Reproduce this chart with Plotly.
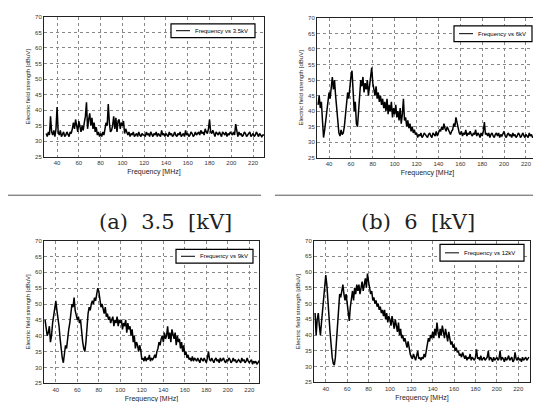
import plotly.graph_objects as go

# ---- data (1 MHz steps starting at 30 MHz) ----
start_mhz = 30
x_ticks = [40, 60, 80, 100, 120, 140, 160, 180, 200, 220]
y_ticks = [25, 30, 35, 40, 45, 50, 55, 60, 65, 70]

level_3_5kv = [
    32.5, 31.5, 33, 32, 38, 33, 32, 33.5, 31.5, 34,
    41, 33, 32, 33.5, 31.5, 32.5, 33, 31.5, 32, 33,
    32, 31.5, 33, 32.5, 34, 36, 34, 37, 35, 33,
    36.5, 34, 33, 35, 33.5, 36, 38, 42.5, 34, 37,
    39, 35, 37.5, 34, 36, 33, 34.5, 32, 33, 31.5,
    32.5, 31.5, 33, 32, 34, 36, 35, 42, 36, 33,
    33.5, 35, 38, 34, 37.5, 33, 36.5, 37, 34, 36,
    35, 36.5, 32.5, 34, 33, 32, 33, 31.5, 32.5, 32,
    33, 31.5, 32, 32.5, 31.5, 33, 32, 31.5, 32.5, 32,
    32, 31.5, 33, 32, 32.5, 31.5, 33, 32, 31.5, 32.5,
    32, 33, 31.5, 32.5, 32, 31.5, 33.5, 32, 32.5, 31.5,
    32.5, 32, 31.5, 33, 32, 32.5, 31.5, 32, 33, 32,
    31.5, 32.5, 32, 33, 31.5, 32, 32.5, 31.5, 33.5, 32,
    32.5, 31.5, 32, 33, 32.5, 31.5, 32, 33, 32, 32.5,
    33, 32, 33.5, 32.5, 33, 32, 34, 33, 32.5, 34,
    37, 33, 32.5, 33.5, 32, 31.5, 33, 32.5, 32, 33,
    32, 31.5, 33, 32.5, 32, 33, 31.5, 32.5, 32, 33,
    32.5, 32, 33, 32, 35.5, 32.5, 31.5, 33, 32, 32.5,
    31.5, 32, 33, 32.5, 31.5, 32, 32.5, 33, 31.5, 32,
    32.5, 31.5, 32, 33, 32, 31.5, 32.5, 32, 31.5, 32,
    32,
]

level_6kv = [
    42, 45, 41, 43, 37, 31.5, 34, 38, 40, 43,
    46, 44, 49, 51, 47, 50, 45, 41, 36, 33,
    32, 34, 32.5, 33, 35, 38, 42, 46, 44, 48,
    51, 53, 47, 40, 43, 36, 35, 41, 46, 50,
    48, 51, 46, 49, 47, 50, 45, 48, 51, 54,
    49, 47, 45, 48, 44, 46, 43, 45, 42, 44,
    41, 43, 40, 44, 39, 42, 40, 43, 38, 41,
    39, 42, 38, 40, 37, 41, 36, 39, 44, 37,
    38, 35, 37, 34.5, 36, 33.5, 35, 33, 34, 32.5,
    33, 31.5, 32.5, 32, 33, 31.5, 32, 33, 32.5, 32,
    31.5, 32.5, 33, 32, 31.5, 33, 32.5, 32, 33.5, 32,
    33, 34, 33.5, 35, 34, 36, 34.5, 33.5, 35, 34,
    33, 32.5, 33.5, 34, 36, 35, 38, 36, 34.5, 33,
    32.5, 33.5, 32, 33, 32.5, 34, 32, 33, 32.5, 33.5,
    32.5, 32, 33, 32.5, 34, 32, 33, 32.5, 31.5, 33,
    32, 33.5, 36.5, 32.5, 33, 32, 33, 31.5, 32.5, 33,
    32, 31.5, 32.5, 33, 32, 33, 31.5, 32.5, 32, 33,
    33.5, 32, 31.5, 32.5, 33, 32, 32.5, 31.5, 33, 32,
    32.5, 31.5, 32, 33, 32.5, 31.5, 32, 33, 32, 31.5,
    32.5, 32, 31.5, 33, 32, 32.5, 31.5, 32, 33, 32,
    32,
]

level_9kv = [
    45, 42, 40, 41, 43, 38, 40, 44, 47, 49,
    51, 48, 46, 43, 39, 35, 33, 31.5, 34, 37,
    36, 40, 42, 44, 47, 50, 49, 52, 48, 46,
    45, 46, 44, 45, 41, 38, 36, 35, 38, 43,
    47, 49, 48, 50, 51, 50, 52, 51, 53, 55,
    54, 51, 49, 50, 48, 47, 49, 46, 47, 45,
    46, 44, 45, 46, 43, 45, 44, 46, 43, 45,
    44, 45, 42, 44, 43, 45, 41, 44, 42, 43,
    40, 42, 38, 40, 36, 38, 37, 35, 37, 35.5,
    32.5, 33, 32, 33.5, 32, 33, 32.5, 34, 32, 33,
    32.5, 33, 34, 33, 35, 36, 38, 37, 39, 40,
    38, 41, 39, 40, 43, 39, 41, 38, 42, 40,
    39, 41, 37, 40, 38, 39, 36, 38, 35, 37,
    34, 35, 33, 34, 32.5, 33, 32, 33.5, 32, 33,
    32.5, 32, 33, 32, 31.5, 33, 32.5, 32, 33, 32,
    31.5, 33, 35, 32.5, 32, 33, 32, 31.5, 32.5, 33,
    32, 32.5, 31.5, 33, 32, 32.5, 33, 32, 31.5, 32.5,
    32, 33, 32.5, 31.5, 32, 33, 32, 32.5, 31.5, 32,
    32.5, 32, 31.5, 33, 32, 32.5, 31.5, 32, 33, 32,
    31.5, 32, 32.5, 31, 32, 31.5, 32, 31, 31.5, 32,
    31.5,
]

level_12kv = [
    47, 40, 45, 47, 43, 40, 44, 48, 53, 57,
    59, 56, 52, 46, 41, 36, 33, 31, 30.5, 33,
    38, 44, 50, 53, 52, 54, 56, 53, 51, 53,
    50, 48, 44.5, 49, 52, 54, 51, 55, 53, 56,
    54, 56, 53, 55, 57, 54, 56, 58, 55, 59.5,
    57, 55, 53, 54, 51, 52, 50, 51, 49, 50,
    48, 49, 47, 48, 46, 48, 45, 47, 44, 46,
    45, 43, 46, 44, 42, 45, 43, 41, 44, 40,
    42, 39, 40, 38, 39, 37, 36, 38, 35, 34,
    33, 32.5, 34, 33, 32, 33.5, 35, 32.5, 33, 32,
    33, 32.5, 34, 33, 35, 37, 39, 38, 40, 39,
    41, 39, 42, 40, 44, 41, 39, 42, 40, 43,
    41, 39, 42, 40, 38, 41, 39, 37, 38, 36,
    37, 35, 36, 34.5, 35, 33.5, 34, 33, 34.5, 33,
    32.5, 33.5, 32, 33, 32.5, 34, 32, 33, 32.5, 32,
    33, 35.5, 32.5, 33, 32, 33.5, 32, 32.5, 33, 32,
    32.5, 33, 35, 32, 33, 32.5, 31.5, 33, 32, 32.5,
    33, 32, 32.5, 35, 32, 33, 32.5, 31.5, 33, 32,
    32.5, 33.5, 32, 32.5, 33, 31.5, 32, 34.5, 32.5, 32,
    33, 32, 32.5, 31.5, 33, 32, 32.5, 33, 32, 32.5,
    33,
]

series_names = ["Frequency vs 3.5kV", "Frequency vs 6kV",
                "Frequency vs 9kV", "Frequency vs 12kV"]
captions = ["(a)\u00a0\u00a03.5\u00a0\u00a0[kV]", "(b)\u00a0\u00a06\u00a0\u00a0[kV]"]
x_title = "Frequency [MHz]"
y_title = "Electric field strength [dBuV]"

series = [level_3_5kv, level_6kv, level_9kv, level_12kv]

# ---- layout geometry (pixels of a 541x402 canvas) ----
W, H = 541, 402
boxes = [  # left, right, top, bottom
    (36, 256, 6, 148),
    (309, 530, 7, 149),
    (36, 251, 233, 378),
    (306, 522, 233, 377),
]
xranges = [[28, 230], [29, 231], [29, 229], [29, 231]]
legend_boxes = [  # left, right, top, bottom
    (163, 247, 13, 27),
    (446, 524, 15, 31),
    (168, 245, 242, 256),
    (432, 516, 237, 254),
]


def px(xp):
    return xp / W


def py(yp):
    return 1 - yp / H


fig = go.Figure()
tick_font = dict(family="Liberation Sans", size=6, color="#333333")

for i, vals in enumerate(series):
    n = i + 1
    sx = "" if n == 1 else str(n)
    freqs = [start_mhz + k for k in range(len(vals))]
    fig.add_trace(go.Scatter(
        x=freqs, y=vals, mode="lines",
        line=dict(color="black", width=1.5),
        name=series_names[i],
        xaxis="x" + sx, yaxis="y" + sx, showlegend=False,
    ))
    l, r, t, b = boxes[i]
    axis_common = dict(
        showline=True, mirror=True, linecolor="#222222", linewidth=1,
        showgrid=True, gridcolor="#888888", griddash="dot", gridwidth=1,
        zeroline=False, ticks="", tickfont=tick_font,
    )
    fig.update_layout(**{
        "xaxis" + sx: dict(
            domain=[px(l), px(r)], anchor="y" + sx, range=xranges[i],
            tickvals=x_ticks,
            title=dict(text=x_title, standoff=4,
                       font=dict(family="Liberation Sans", size=7, color="#222222")),
            **axis_common),
        "yaxis" + sx: dict(
            domain=[py(b), py(t)], anchor="x" + sx, range=[25, 70],
            tickvals=y_ticks,
            title=dict(text=y_title, standoff=4,
                       font=dict(family="Liberation Sans", size=6, color="#222222")),
            **axis_common),
    })

    # hand-drawn legend box (line sample + label)
    ll, lr, lt, lb = legend_boxes[i]
    ym = (lt + lb) / 2
    fig.add_shape(type="rect", xref="paper", yref="paper",
                  x0=px(ll), x1=px(lr), y0=py(lb), y1=py(lt),
                  line=dict(color="black", width=1.2), fillcolor="white")
    fig.add_shape(type="line", xref="paper", yref="paper",
                  x0=px(ll + 5), x1=px(ll + 19), y0=py(ym), y1=py(ym),
                  line=dict(color="black", width=1))
    fig.add_annotation(x=px(ll + 22), y=py(ym), xref="paper", yref="paper",
                       text=series_names[i], showarrow=False,
                       xanchor="left", yanchor="middle",
                       font=dict(family="Liberation Sans", size=6, color="black"))

# separator lines and captions
fig.add_shape(type="line", xref="paper", yref="paper",
              x0=0, x1=px(253), y0=py(187), y1=py(187),
              line=dict(color="#555555", width=1))
fig.add_shape(type="line", xref="paper", yref="paper",
              x0=px(267), x1=1, y0=py(187), y1=py(187),
              line=dict(color="#555555", width=1))
for cx, text in zip([157, 410], captions):
    fig.add_annotation(x=px(cx), y=py(214), xref="paper", yref="paper",
                       text=text, showarrow=False, xanchor="center", yanchor="middle",
                       font=dict(family="DejaVu Serif", size=21, color="#222222"))

fig.update_layout(
    width=W, height=H, margin=dict(l=0, r=0, t=0, b=0),
    paper_bgcolor="white", plot_bgcolor="white",
)
fig.write_html("out.html")
